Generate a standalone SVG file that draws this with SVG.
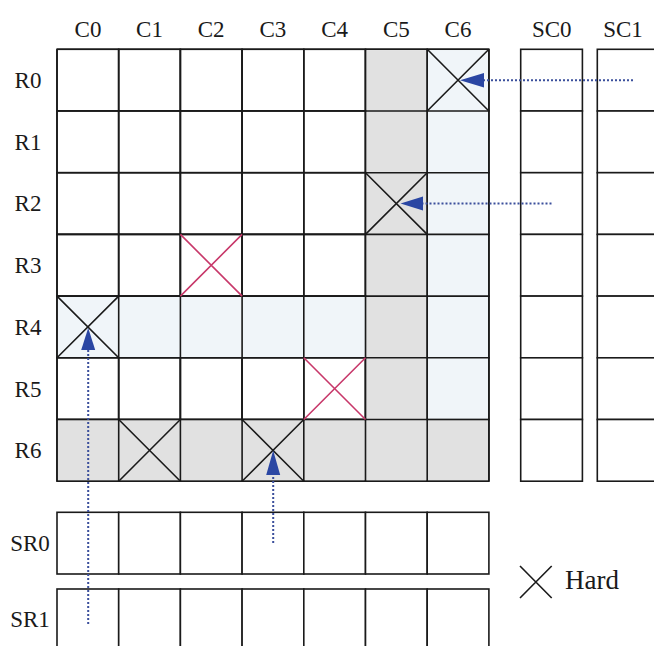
<svg xmlns="http://www.w3.org/2000/svg" width="654" height="646" viewBox="0 0 654 646">
<style>
.lbl{font-family:"Liberation Serif","DejaVu Serif",serif;font-size:23px;fill:#1a1a1a;text-anchor:middle}
.c{fill:#ffffff;stroke:#1a1a1a;stroke-width:1.6}
.g{fill:#e1e1e1}
.b{fill:#f0f5f9}
.x{stroke:#1a1a1a;stroke-width:1.6;fill:none}
.xr{stroke:#c8386a;stroke-width:1.6;fill:none}
.arr{stroke:#3b4f9c;stroke-width:2;stroke-dasharray:2 2;fill:none}
.head{fill:#2a46a3}
</style>
<defs>
<g id="row7">
<rect class="c" x="0" y="0" width="61.7" height="61.7"/>
<rect class="c" x="61.7" y="0" width="61.7" height="61.7"/>
<rect class="c" x="123.4" y="0" width="61.7" height="61.7"/>
<rect class="c" x="185.1" y="0" width="61.7" height="61.7"/>
<rect class="c" x="246.8" y="0" width="61.7" height="61.7"/>
<rect class="c" x="308.5" y="0" width="61.7" height="61.7"/>
<rect class="c" x="370.2" y="0" width="61.7" height="61.7"/>
</g>
</defs>

<g id="labels">
<text class="lbl" x="88" y="36.5">C0</text>
<text class="lbl" x="149.5" y="36.5">C1</text>
<text class="lbl" x="211.2" y="36.5">C2</text>
<text class="lbl" x="272.9" y="36.5">C3</text>
<text class="lbl" x="334.6" y="36.5">C4</text>
<text class="lbl" x="396.3" y="36.5">C5</text>
<text class="lbl" x="458" y="36.5">C6</text>
<text class="lbl" x="551.7" y="36.5">SC0</text>
<text class="lbl" x="623" y="36.5">SC1</text>
<text class="lbl" x="28" y="88">R0</text>
<text class="lbl" x="28" y="149.7">R1</text>
<text class="lbl" x="28" y="211.4">R2</text>
<text class="lbl" x="28" y="273.1">R3</text>
<text class="lbl" x="28" y="334.8">R4</text>
<text class="lbl" x="28" y="396.5">R5</text>
<text class="lbl" x="28" y="458.2">R6</text>
<text class="lbl" x="30" y="551">SR0</text>
<text class="lbl" x="30" y="627">SR1</text>
</g>

<g id="main-grid">
<use href="#row7" x="57" y="49.3"/>
<use href="#row7" x="57" y="111"/>
<use href="#row7" x="57" y="172.7"/>
<use href="#row7" x="57" y="234.4"/>
<use href="#row7" x="57" y="296.1"/>
<use href="#row7" x="57" y="357.8"/>
<use href="#row7" x="57" y="419.5"/>
</g>

<g id="highlights">
<rect class="g" x="366.3" y="50.1" width="60.1" height="430.3"/>
<rect class="b" x="428" y="50.1" width="60.1" height="368.6"/>
<rect class="b" x="57.8" y="296.9" width="307.7" height="60.1"/>
<rect class="g" x="57.8" y="420.3" width="430.3" height="60.1"/>
</g>

<g id="grid-lines" stroke="#1a1a1a" stroke-width="1.6" fill="none">
<path d="M57 49.3V481.2M118.7 49.3V481.2M180.4 49.3V481.2M242.1 49.3V481.2M303.8 49.3V481.2M365.5 49.3V481.2M427.2 49.3V481.2M488.9 49.3V481.2"/>
<path d="M57 49.3H488.9M57 111H488.9M57 172.7H488.9M57 234.4H488.9M57 296.1H488.9M57 357.8H488.9M57 419.5H488.9M57 481.2H488.9"/>
</g>

<g id="sc0">
<rect class="c" x="520.7" y="49.3" width="61.7" height="61.7"/>
<rect class="c" x="520.7" y="111" width="61.7" height="61.7"/>
<rect class="c" x="520.7" y="172.7" width="61.7" height="61.7"/>
<rect class="c" x="520.7" y="234.4" width="61.7" height="61.7"/>
<rect class="c" x="520.7" y="296.1" width="61.7" height="61.7"/>
<rect class="c" x="520.7" y="357.8" width="61.7" height="61.7"/>
<rect class="c" x="520.7" y="419.5" width="61.7" height="61.7"/>
</g>
<g id="sc1">
<rect class="c" x="597.3" y="49.3" width="61.7" height="61.7"/>
<rect class="c" x="597.3" y="111" width="61.7" height="61.7"/>
<rect class="c" x="597.3" y="172.7" width="61.7" height="61.7"/>
<rect class="c" x="597.3" y="234.4" width="61.7" height="61.7"/>
<rect class="c" x="597.3" y="296.1" width="61.7" height="61.7"/>
<rect class="c" x="597.3" y="357.8" width="61.7" height="61.7"/>
<rect class="c" x="597.3" y="419.5" width="61.7" height="61.7"/>
</g>
<g id="sr0"><use href="#row7" x="57" y="512.3"/></g>
<g id="sr1"><use href="#row7" x="57" y="589"/></g>

<g id="hard-marks">
<path class="x" d="M427.2 49.3L488.9 111M488.9 49.3L427.2 111"/>
<path class="x" d="M365.5 172.7L427.2 234.4M427.2 172.7L365.5 234.4"/>
<path class="x" d="M57 296.1L118.7 357.8M118.7 296.1L57 357.8"/>
<path class="x" d="M118.7 419.5L180.4 481.2M180.4 419.5L118.7 481.2"/>
<path class="x" d="M242.1 419.5L303.8 481.2M303.8 419.5L242.1 481.2"/>
<path class="xr" d="M180.4 234.4L242.1 296.1M242.1 234.4L180.4 296.1"/>
<path class="xr" d="M303.8 357.8L365.5 419.5M365.5 357.8L303.8 419.5"/>
</g>

<g id="connectors">
<path class="arr" d="M633 80.2H482"/>
<path class="head" d="M460 80.2L484 73V87.4Z"/>
<path class="arr" d="M551.5 203.5H421"/>
<path class="head" d="M400.5 203.5L423 196.5V210.5Z"/>
<path class="arr" d="M88.2 624V349"/>
<path class="head" d="M88.2 328L81.2 350H95.2Z"/>
<path class="arr" d="M273.2 543V474"/>
<path class="head" d="M273.2 450.5L266.2 475H280.2Z"/>
</g>

<g id="legend">
<path class="x" d="M520 566L551.7 598M551.7 566L520 598"/>
<text x="565" y="589" style="font-family:'Liberation Serif','DejaVu Serif',serif;font-size:27px;fill:#1a1a1a">Hard</text>
</g>
</svg>
